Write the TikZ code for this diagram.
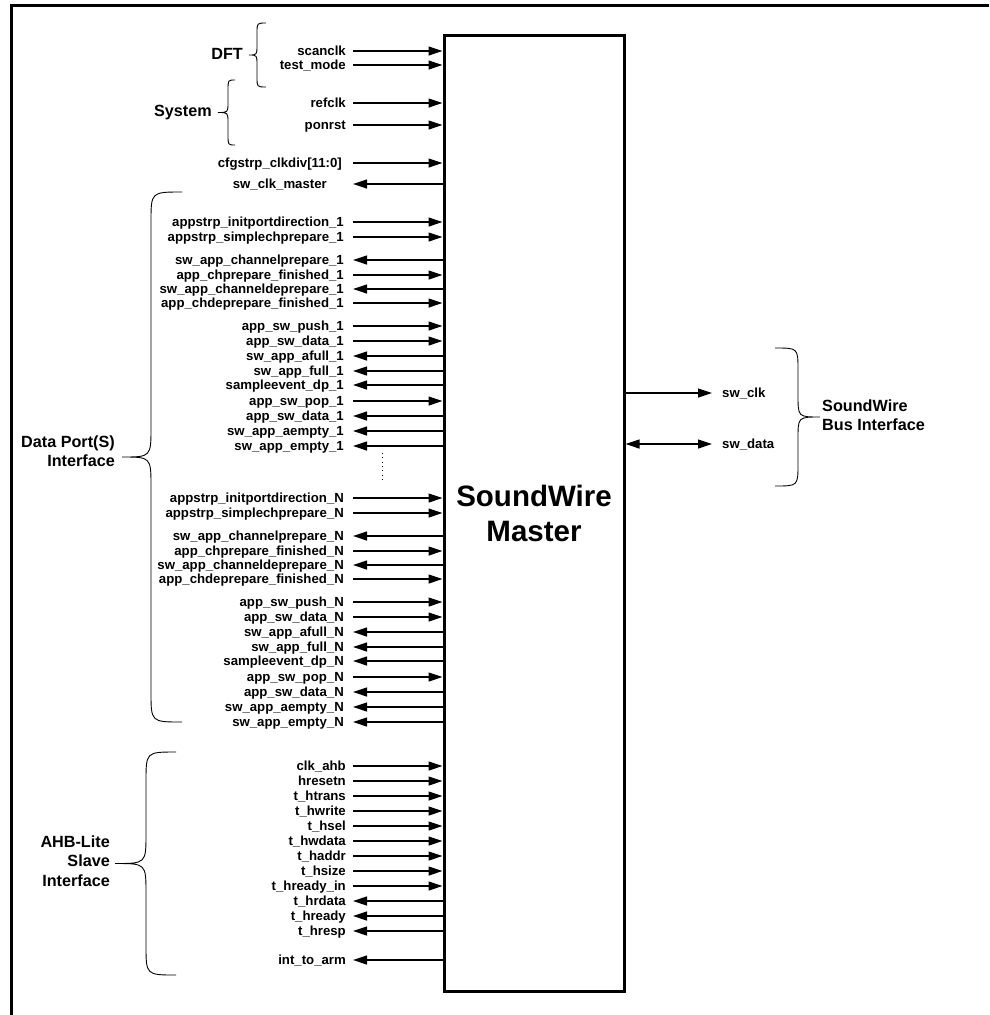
\documentclass[tikz,border=0pt]{standalone}
\usepackage{fontspec}
\setmainfont{Liberation Sans}
\usetikzlibrary{arrows.meta,positioning}

\tikzset{
    sig/.style={font=\fontsize{13.2}{15}\selectfont\bfseries, inner sep=0pt, text height=9.5pt, text depth=0pt},
    grp/.style={font=\fontsize{16.2}{19.5}\selectfont\bfseries, inner sep=0pt},
    wire/.style={line width=1.2pt},
    sigin/.style={wire, -{Triangle[length=14pt,width=9pt]}},
    sigout/.style={wire, {Triangle[length=14pt,width=9pt]}-},
    sigbi/.style={wire, {Triangle[length=14pt,width=9pt]}-{Triangle[length=14pt,width=9pt]}},
    brc/.style={line width=0.9pt},
}

\begin{document}
\begin{tikzpicture}[x=1pt, y=-1pt]
    \useasboundingbox (0,0) rectangle (989,1015);
    \draw[line width=3pt] (11,1015) -- (11,5) -- (989,5);

    \node[draw, line width=3pt, minimum width=180pt, minimum height=956pt, inner sep=0pt,
          align=center, font=\fontsize{29.5}{35}\selectfont\bfseries] (swm) at (534,513) {SoundWire\\Master};

    \foreach \name/\y/\dir/\gap [count=\i] in {
        scanclk/51/sigin/7, test\_mode/65/sigin/7, refclk/103/sigin/7, ponrst/125/sigin/7,
        cfgstrp\_clkdiv[11:0]/163/sigin/11, sw\_clk\_master/184/sigout/26,
        clk\_ahb/766/sigin/7, hresetn/781/sigin/7, t\_htrans/796/sigin/7, t\_hwrite/811/sigin/7,
        t\_hsel/826/sigin/7, t\_hwdata/841/sigin/7, t\_haddr/856/sigin/7, t\_hsize/871/sigin/7,
        t\_hready\_in/886/sigin/7, t\_hrdata/901/sigout/7, t\_hready/916/sigout/7,
        t\_hresp/931/sigout/7, int\_to\_arm/960/sigout/7} {
        \coordinate (t\i) at (353,\y);
        \node[sig, left=\gap pt of t\i] (s\i) {\name};
        \draw[\dir] (t\i) -- (t\i -| swm.west);
    }

    \foreach \k/\dy in {1/0, N/276} {
        \foreach \name/\y/\dir [count=\i] in {
            appstrp\_initportdirection/222/sigin, appstrp\_simplechprepare/237/sigin,
            sw\_app\_channelprepare/260/sigout, app\_chprepare\_finished/275/sigin,
            sw\_app\_channeldeprepare/289/sigout, app\_chdeprepare\_finished/303/sigin,
            app\_sw\_push/326/sigin, app\_sw\_data/341/sigin, sw\_app\_afull/356/sigout,
            sw\_app\_full/371/sigout, sampleevent\_dp/385/sigout, app\_sw\_pop/401/sigin,
            app\_sw\_data/416/sigout, sw\_app\_aempty/431/sigout, sw\_app\_empty/446/sigout} {
            \coordinate (t\k-\i) at (353,\y+\dy);
            \node[sig, left=9pt of t\k-\i] (dp\k-\i) {\name\_\k};
            \draw[\dir] (t\k-\i) -- (t\k-\i -| swm.west);
        }
    }
    \draw[line width=0.8pt, dash pattern=on 0.8pt off 3.5pt] (382,453) -- (382,481);

    \node[sig, anchor=west] (clk) at (722,393) {sw\_clk};
    \node[sig, anchor=west] (dat) at (722,444) {sw\_data};
    \draw[sigin, shorten >=10pt] (clk.west -| swm.east) -- (clk.west);
    \draw[sigbi, shorten >=10pt] (dat.west -| swm.east) -- (dat.west);

    \foreach \xe/\xs/\xt/\ya/\yb/\rr in {266/257/249/23/87/10, 235/228/218/80/145/10,
        182/151/122/192/722/30, 176/146/115/752/975/30, 775/798/820/348/486/22} {
        \pgfmathsetmacro{\ym}{(\ya+\yb)/2}
        \draw[brc] (\xe,\ya) .. controls (\xs,\ya) .. (\xs,\ya+\rr) -- (\xs,\ym-\rr)
            .. controls (\xs,\ym) .. (\xt,\ym) .. controls (\xs,\ym) .. (\xs,\ym+\rr)
            -- (\xs,\yb-\rr) .. controls (\xs,\yb) .. (\xe,\yb);
    }

    \node[grp, anchor=east] (dft) at (243,54) {DFT};
    \node[grp, anchor=east] (sys) at (212,113) {System};
    \node[grp, anchor=east, align=right] (dpi) at (115,451) {Data Port(S)\\Interface};
    \node[grp, anchor=east, align=right] (ahb) at (110,861) {AHB-Lite\\Slave\\Interface};
    \node[grp, anchor=west, align=left] (bus) at (822,415) {SoundWire\\Bus Interface};
\end{tikzpicture}
\end{document}
